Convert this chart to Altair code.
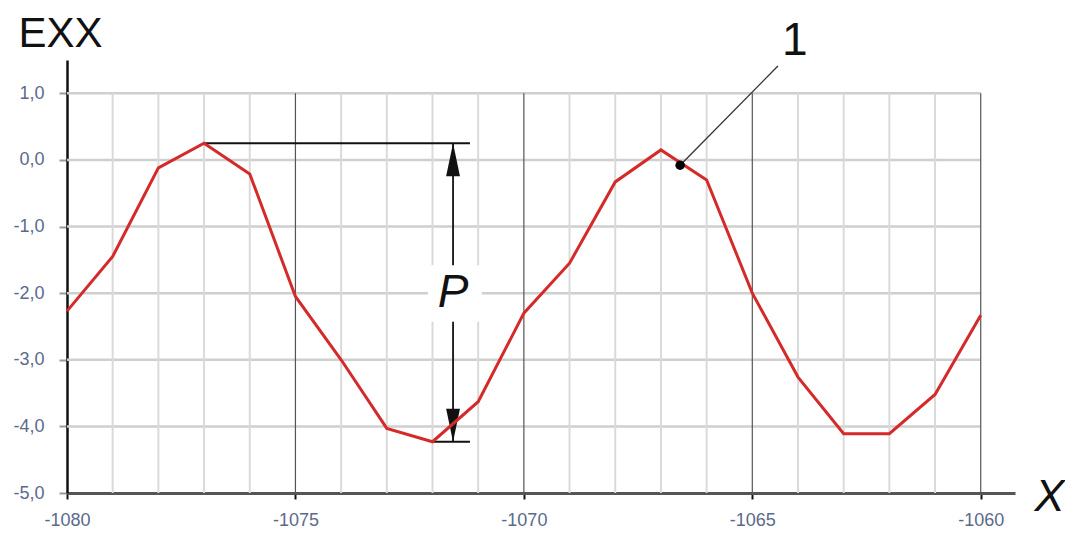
import altair as alt
import pandas as pd

# ---- data ----
x_vals = [-1080, -1079, -1078, -1077, -1076, -1075, -1074, -1073, -1072, -1071,
          -1070, -1069, -1068, -1067, -1066, -1065, -1064, -1063, -1062, -1061, -1060]
exx_vals = [-2.27, -1.45, -0.12, 0.25, -0.21, -2.05, -3.0, -4.03, -4.23, -3.63,
            -2.30, -1.55, -0.33, 0.15, -0.30, -2.0, -3.26, -4.11, -4.11, -3.52, -2.33]

y_ticks = [1, 0, -1, -2, -3, -4, -5]
y_tick_labels = ["1,0", "0,0", "-1,0", "-2,0", "-3,0", "-4,0", "-5,0"]
x_ticks = [-1080, -1075, -1070, -1065, -1060]
x_tick_labels = ["-1080", "-1075", "-1070", "-1065", "-1060"]

minor_x = [-1079, -1078, -1077, -1076, -1074, -1073, -1072, -1071,
           -1069, -1068, -1067, -1066, -1064, -1063, -1062, -1061]
major_x = [-1075, -1070, -1065, -1060]
grid_y = [1, 0, -1, -2, -3, -4]

# annotation: peak-to-peak dimension "P"
peak_x, peak_y = -1077, 0.25
trough_x, trough_y = -1072, -4.23
dim_x = -1071.55
ext_end_x = -1071.18
p_box_x = [-1072.1, -1070.92]
p_box_y = [-1.58, -2.43]
p_label = "P"
p_label_y = -2.0

# annotation: marker "1"
marker_x, marker_y = -1066.58, -0.08
leader_end_x, leader_end_y = -1064.44, 1.41
marker_label = "1"
marker_label_x, marker_label_y = -1064.07, 1.58

FONT = "Liberation Sans"


def label_expr(values, labels):
    expr = "''"
    for v, l in reversed(list(zip(values, labels))):
        expr = f"datum.value == {v} ? '{l}' : ({expr})"
    return expr


xscale = alt.Scale(domain=[-1080, -1059.25], nice=False, zero=False)
yscale = alt.Scale(domain=[-5, 1.5], nice=False, zero=False)

xaxis = alt.Axis(values=x_ticks, labelExpr=label_expr(x_ticks, x_tick_labels),
                 grid=False, domainColor="#555555", domainWidth=3,
                 tickColor="#111111", tickWidth=2, tickSize=6,
                 labelFont=FONT, labelFontSize=18, labelColor="#5b6a8c",
                 labelPadding=12, labelFlush=False,
                 title="X", titleFont=FONT, titleFontSize=45, titleFontStyle="italic",
                 titleFontWeight="normal", titleColor="#111111",
                 titleX=982, titleY=17, titleAlign="center", titleBaseline="alphabetic")
yaxis = alt.Axis(values=y_ticks, labelExpr=label_expr(y_ticks, y_tick_labels),
                 grid=False, domainColor="#111111", domainWidth=2.5,
                 tickColor="#9a9a9a", tickWidth=2, tickSize=8,
                 labelFont=FONT, labelFontSize=18, labelColor="#5b6a8c",
                 labelPadding=15, labelFlush=False,
                 title="EXX", titleFont=FONT, titleFontSize=42, titleFontWeight="normal",
                 titleColor="#111111", titleAngle=0, titleX=-49, titleY=-14,
                 titleAlign="left", titleBaseline="alphabetic")

X = alt.X("x:Q", scale=xscale, axis=xaxis)
Y = alt.Y("y:Q", scale=yscale, axis=yaxis)

# gridlines
hgrid = alt.Chart(pd.DataFrame({"y": grid_y, "x": [x_vals[0]] * len(grid_y),
                                "x2": [x_vals[-1]] * len(grid_y)})).mark_rule(
    color="#cfcfcf", strokeWidth=2.5).encode(x=X, x2="x2:Q", y=Y)
vminor = alt.Chart(pd.DataFrame({"x": minor_x, "y": [-5] * len(minor_x),
                                 "y2": [1] * len(minor_x)})).mark_rule(
    color="#dadada", strokeWidth=2).encode(x=X, y=Y, y2="y2:Q")
vmajor = alt.Chart(pd.DataFrame({"x": major_x, "y": [-5] * len(major_x),
                                 "y2": [1] * len(major_x)})).mark_rule(
    color="#555555", strokeWidth=1.2).encode(x=X, y=Y, y2="y2:Q")

# dimension lines
ext_df = pd.DataFrame({"x": [peak_x, trough_x], "x2": [ext_end_x, ext_end_x],
                       "y": [peak_y, trough_y]})
ext = alt.Chart(ext_df).mark_rule(color="#111111", strokeWidth=2).encode(x=X, x2="x2:Q", y=Y)
vdim = alt.Chart(pd.DataFrame({"x": [dim_x], "y": [peak_y], "y2": [trough_y]})).mark_rule(
    color="#111111", strokeWidth=1.8).encode(x=X, y=Y, y2="y2:Q")
head_up = alt.Chart(pd.DataFrame({"x": [dim_x], "y": [peak_y]})).mark_point(
    shape="M0,0L0.42,2L-0.42,2Z", size=1089, filled=True, color="#111111", opacity=1,
    strokeWidth=0).encode(x=X, y=Y)
head_down = alt.Chart(pd.DataFrame({"x": [dim_x], "y": [trough_y]})).mark_point(
    shape="M0,0L0.42,-2L-0.42,-2Z", size=1089, filled=True, color="#111111", opacity=1,
    strokeWidth=0).encode(x=X, y=Y)
pbox = alt.Chart(pd.DataFrame({"x": [p_box_x[0]], "x2": [p_box_x[1]],
                               "y": [p_box_y[0]], "y2": [p_box_y[1]]})).mark_rect(
    color="white").encode(x=X, x2="x2:Q", y=Y, y2="y2:Q")
ptext = alt.Chart(pd.DataFrame({"x": [dim_x], "y": [p_label_y], "t": [p_label]})).mark_text(
    font=FONT, fontSize=46, fontStyle="italic", color="#111111", align="center",
    baseline="middle").encode(x=X, y=Y, text="t:N")

# data line
line = alt.Chart(pd.DataFrame({"x": x_vals, "y": exx_vals})).mark_line(
    color="#d42a2a", strokeWidth=3).encode(x=X, y=Y)

# marker + leader + label
leader = alt.Chart(pd.DataFrame({"x": [marker_x], "y": [marker_y],
                                 "x2": [leader_end_x], "y2": [leader_end_y]})).mark_rule(
    color="#333333", strokeWidth=1.3).encode(x=X, y=Y, x2="x2:Q", y2="y2:Q")
marker = alt.Chart(pd.DataFrame({"x": [marker_x], "y": [marker_y]})).mark_circle(
    color="#000000", size=90, opacity=1).encode(x=X, y=Y)
mlabel = alt.Chart(pd.DataFrame({"x": [marker_label_x], "y": [marker_label_y],
                                 "t": [marker_label]})).mark_text(
    font=FONT, fontSize=46, color="#111111", align="center",
    baseline="alphabetic").encode(x=X, y=Y, text="t:N")

chart = alt.layer(hgrid, vminor, vmajor, vdim, pbox, ptext, head_up, head_down, ext,
                  line, leader, marker, mlabel).properties(
    width=948, height=433,
    autosize=alt.AutoSizeParams(type="none"),
    padding={"left": 59, "top": 52, "right": 50, "bottom": 36},
    background="white",
).configure_view(stroke=None)

chart.save("out.html", embed_options={"renderer": "svg", "actions": False})
